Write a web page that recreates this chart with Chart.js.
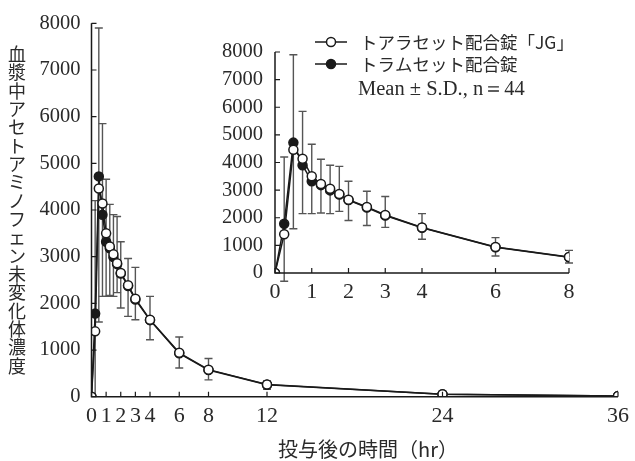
<!DOCTYPE html>
<html>
<head>
<meta charset="utf-8">
<script src="https://cdn.jsdelivr.net/npm/chart.js@4.4.1/dist/chart.umd.min.js"></script>
<style>
html, body { margin: 0; padding: 0; background: #fff; }
#wrap { position: relative; width: 635px; height: 461px; }
#mainChart { position: absolute; left: 0; top: 0; }
#insetChart { position: absolute; left: 190px; top: 0; }
</style>
</head>
<body>
<div id="wrap">
  <canvas id="mainChart" width="635" height="461"></canvas>
  <canvas id="insetChart" width="445" height="320"></canvas>
</div>
<script>
// 時間 (hr)
const times = [0, 0.25, 0.5, 0.75, 1, 1.25, 1.5, 1.75, 2, 2.5, 3, 4, 6, 8, 12, 24, 36];

// トアラセット配合錠「JG」 (白丸) - SDは上向き
const jgMean = [0, 1400, 4460, 4140, 3500, 3220, 3050, 2860, 2650, 2390, 2100, 1650, 940, 580, 260, 55, 15];
const jgSD   = [0, 2800, 3440, 1710, 1160, 900, 850, 1000, 670, 570, 670, 500, 340, 240, 80, 10, 0];

// トラムセット配合錠 (黒丸) - SDは下向き
const tramMean = [0, 1780, 4720, 3900, 3320, 3180, 2990, 2840, 2640, 2370, 2080, 1640, 930, 570, 255, 55, 15];
const tramSD   = [0, 2080, 3120, 1750, 1170, 1010, 840, 610, 740, 650, 430, 420, 315, 210, 95, 10, 0];

const mainXTicks = [0, 1, 2, 3, 4, 6, 8, 12, 24, 36];
const insetXTicks = [0, 1, 2, 3, 4, 6, 8];
const yTicks = [0, 1000, 2000, 3000, 4000, 5000, 6000, 7000, 8000];

const jgLabel = 'トアラセット配合錠「JG」';
const tramLabel = 'トラムセット配合錠';
const statLabel = 'Mean ± S.D., n＝44';
const yTitle = '血漿中アセトアミノフェン未変化体濃度';
const xTitle = '投与後の時間（hr）';

const INK = '#1a1a1a';
const TEXT = '#2a2a2a';
const SERIF = "'Liberation Serif', 'DejaVu Serif', serif";
const JP = "'Noto Sans CJK JP', 'Noto Sans', sans-serif";

function toPoints(means, maxT) {
    const pts = [];
    times.forEach((t, i) => {
        if (t <= maxT) pts.push({ x: t, y: means[i] });
    });
    return pts;
}

// SDのエラーバー
function makeErrorBars(clip) {
    return {
        id: 'errorBars',
        beforeDatasetsDraw(chart) {
            const { ctx, chartArea, scales } = chart;
            const sets = [
                { sd: jgSD, dir: 1, idx: 0 },
                { sd: tramSD, dir: -1, idx: 1 }
            ];
            ctx.save();
            if (clip) {
                ctx.beginPath();
                ctx.rect(chartArea.left - 10, chartArea.top - 10, chartArea.right - chartArea.left + 20, chartArea.bottom - chartArea.top + 10);
                ctx.clip();
            }
            ctx.strokeStyle = '#555';
            ctx.lineWidth = 1.4;
            sets.forEach(s => {
                const data = chart.data.datasets[s.idx].data;
                data.forEach((p, i) => {
                    const sd = s.sd[i];
                    if (!sd) return;
                    const x = scales.x.getPixelForValue(p.x);
                    const y0 = scales.y.getPixelForValue(p.y);
                    const y1 = scales.y.getPixelForValue(p.y + s.dir * sd);
                    ctx.beginPath();
                    ctx.moveTo(x, y0);
                    ctx.lineTo(x, y1);
                    ctx.moveTo(x - 4, y1);
                    ctx.lineTo(x + 4, y1);
                    ctx.stroke();
                });
            });
            ctx.restore();
        }
    };
}

// 軸線と内向きの目盛り線
const innerTicks = {
    id: 'innerTicks',
    afterDraw(chart) {
        const { ctx, chartArea, scales } = chart;
        ctx.save();
        ctx.strokeStyle = INK;
        ctx.lineWidth = 1.5;
        ctx.beginPath();
        ctx.moveTo(chartArea.left, scales.y.getPixelForValue(8000));
        ctx.lineTo(chartArea.left, chartArea.bottom);
        ctx.lineTo(chartArea.right, chartArea.bottom);
        ctx.stroke();
        ctx.lineWidth = 1.2;
        ctx.beginPath();
        scales.x.ticks.forEach(t => {
            const x = scales.x.getPixelForValue(t.value);
            ctx.moveTo(x, chartArea.bottom);
            ctx.lineTo(x, chartArea.bottom - 5);
        });
        scales.y.ticks.forEach(t => {
            const y = scales.y.getPixelForValue(t.value);
            ctx.moveTo(chartArea.left, y);
            ctx.lineTo(chartArea.left + 5, y);
        });
        ctx.stroke();
        ctx.restore();
    }
};

const mainTitles = {
    id: 'mainTitles',
    afterDraw(chart) {
        const ctx = chart.ctx;
        ctx.save();
        ctx.fillStyle = TEXT;
        ctx.font = '18px ' + JP;
        ctx.textAlign = 'center';
        ctx.textBaseline = 'middle';
        Array.from(yTitle).forEach((ch, i) => {
            ctx.fillText(ch, 17, 54 + i * 18.35);
        });
        ctx.font = '20px ' + JP;
        ctx.fillText(xTitle, 368, 449);
        ctx.restore();
    }
};

const insetLegend = {
    id: 'insetLegend',
    afterDraw(chart) {
        const ctx = chart.ctx;
        const rows = [
            { y: 42, text: jgLabel, fill: '#fff' },
            { y: 64, text: tramLabel, fill: INK }
        ];
        ctx.save();
        rows.forEach(r => {
            ctx.strokeStyle = INK;
            ctx.lineWidth = 1.5;
            ctx.beginPath();
            ctx.moveTo(125, r.y);
            ctx.lineTo(157, r.y);
            ctx.stroke();
            ctx.beginPath();
            ctx.arc(141, r.y, 4.5, 0, Math.PI * 2);
            ctx.fillStyle = r.fill;
            ctx.fill();
            ctx.stroke();
            ctx.fillStyle = TEXT;
            ctx.font = '17.5px ' + JP;
            ctx.textAlign = 'left';
            ctx.textBaseline = 'middle';
            ctx.fillText(r.text, 170, r.y);
        });
        ctx.font = '20.5px ' + SERIF;
        ctx.fillText(statLabel, 168, 90);
        ctx.restore();
    }
};

function datasets(maxT) {
    return [
        {
            label: jgLabel,
            data: toPoints(jgMean, maxT),
            borderColor: INK,
            borderWidth: 1.5,
            backgroundColor: '#fff',
            pointBackgroundColor: '#fff',
            pointBorderColor: INK,
            pointBorderWidth: 1.5,
            pointRadius: 4.5,
            tension: 0
        },
        {
            label: tramLabel,
            data: toPoints(tramMean, maxT),
            borderColor: INK,
            borderWidth: 1.5,
            backgroundColor: INK,
            pointBackgroundColor: INK,
            pointBorderColor: INK,
            pointBorderWidth: 1.5,
            pointRadius: 4.5,
            tension: 0
        }
    ];
}

function axisOptions(xMax, xTickList, yWidth, xHeight, xPad, yPad) {
    return {
        x: {
            type: 'linear',
            min: 0,
            max: xMax,
            afterBuildTicks: (scale) => { scale.ticks = xTickList.map(v => ({ value: v })); },
            afterFit: (scale) => { scale.height = xHeight; },
            grid: { display: false, drawTicks: false },
            border: { display: false },
            ticks: {
                autoSkip: false,
                maxRotation: 0,
                padding: xPad,
                color: TEXT,
                font: { family: SERIF, size: 22 },
                callback: (v) => String(v)
            }
        },
        y: {
            min: 0,
            max: 8000,
            afterBuildTicks: (scale) => { scale.ticks = yTicks.map(v => ({ value: v })); },
            afterFit: (scale) => { scale.width = yWidth; },
            grid: { display: false, drawTicks: false },
            border: { display: false },
            ticks: {
                padding: yPad,
                color: TEXT,
                font: { family: SERIF, size: 20.5 },
                callback: (v) => String(v)
            }
        }
    };
}

const mainChart = new Chart(document.getElementById('mainChart'), {
    type: 'line',
    data: { datasets: datasets(36) },
    options: {
        responsive: false,
        animation: false,
        layout: { padding: { left: 0, top: 18, right: 14, bottom: 0 } },
        plugins: { legend: { display: false }, tooltip: { enabled: false } },
        scales: axisOptions(36, mainXTicks, 91.5, 64.3, 6, 11)
    },
    plugins: [makeErrorBars(true), innerTicks, mainTitles]
});

const insetChart = new Chart(document.getElementById('insetChart'), {
    type: 'line',
    data: { datasets: datasets(8) },
    options: {
        responsive: false,
        animation: false,
        layout: { padding: { left: 0, top: 52, right: 66, bottom: 0 } },
        plugins: { legend: { display: false }, tooltip: { enabled: false } },
        scales: axisOptions(8, insetXTicks, 85, 47, 6, 12)
    },
    plugins: [makeErrorBars(false), innerTicks, insetLegend]
});
</script>
</body>
</html>
